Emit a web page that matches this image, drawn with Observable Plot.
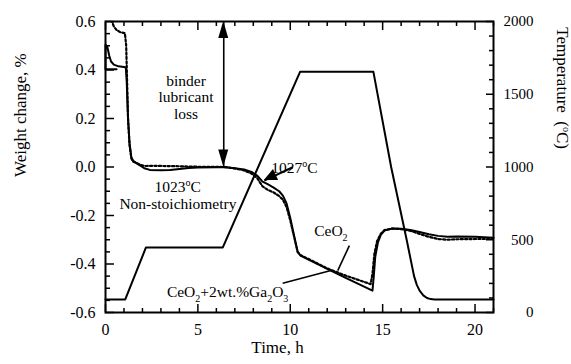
<!DOCTYPE html>
<html><head><meta charset="utf-8">
<script src="https://cdn.jsdelivr.net/npm/d3@7"></script>
<script src="https://cdn.jsdelivr.net/npm/@observablehq/plot@0.6"></script>
<style>
body{margin:0;background:#fff}
#chart svg{display:block}
#chart svg, #chart svg text{font-family:"Liberation Serif","Times New Roman","DejaVu Serif",serif !important;}
</style>
</head><body><div id="chart"></div>
<script>
// ---- data (time in h) ----
const tempProfile = [[0,90],[1.07,90],[2.19,447],[6.35,447],[10.53,1654],[14.5,1654],[15.46,1000],[16.3,500],[16.7,250],[16.85,190],[17.0,150],[17.2,118],[17.4,100],[17.6,92],[17.8,90],[21,90]];
const ceo2 = [[0.6,0.403],[0,0.403],[0,0.505],[0.1,0.495],[0.2,0.46],[0.3,0.435],[0.45,0.422],[0.7,0.415],[1.0,0.412],[1.1,0.41],[1.15,0.35],[1.22,0.2],[1.3,0.1],[1.4,0.04],[1.5,0.025],[1.8,0.01],[2.1,-0.005],[2.4,-0.012],[3.0,-0.013],[3.5,-0.012],[4.0,-0.008],[4.5,-0.004],[5.0,-0.002],[6.0,-0.001],[6.4,0.0],[7.0,-0.005],[7.5,-0.01],[7.9,-0.02],[8.2,-0.035],[8.5,-0.06],[8.8,-0.072],[9.1,-0.085],[9.4,-0.1],[9.6,-0.118],[9.8,-0.15],[10.0,-0.21],[10.2,-0.28],[10.4,-0.35],[10.55,-0.365],[12.0,-0.42],[13.0,-0.457],[14.45,-0.51],[14.52,-0.45],[14.6,-0.37],[14.75,-0.31],[14.9,-0.28],[15.1,-0.262],[15.5,-0.254],[16.0,-0.255],[16.5,-0.26],[17.0,-0.268],[17.5,-0.277],[18.0,-0.284],[18.5,-0.288],[19.0,-0.287],[20.0,-0.288],[21.0,-0.292]];
const ceo2Ga = [[0.25,0.66],[0.35,0.6],[0.45,0.58],[0.6,0.565],[0.8,0.556],[1.05,0.552],[1.12,0.5],[1.17,0.35],[1.22,0.2],[1.3,0.09],[1.4,0.035],[1.5,0.022],[1.8,0.012],[2.1,0.004],[2.5,0.005],[4.0,0.003],[5.0,0.001],[6.4,0.0],[7.0,-0.006],[7.5,-0.014],[7.9,-0.027],[8.2,-0.045],[8.5,-0.08],[8.8,-0.095],[9.1,-0.105],[9.4,-0.12],[9.6,-0.135],[9.8,-0.165],[10.0,-0.22],[10.2,-0.285],[10.4,-0.35],[10.55,-0.363],[12.0,-0.418],[13.0,-0.448],[14.35,-0.483],[14.45,-0.44],[14.55,-0.36],[14.7,-0.305],[14.9,-0.275],[15.1,-0.26],[15.5,-0.254],[16.0,-0.256],[16.5,-0.263],[17.0,-0.276],[17.5,-0.288],[18.0,-0.297],[18.5,-0.3],[19.0,-0.298],[20.0,-0.297],[21.0,-0.297]];

// ---- ticks ----
const xMajor = [0,5,10,15,20];
const xMinor = [1,2,3,4,6,7,8,9,11,12,13,14,16,17,18,19,21];
const wMajor = [-0.6,-0.4,-0.2,0,0.2,0.4,0.6];
const wMinor = [-0.55,-0.5,-0.45,-0.35,-0.3,-0.25,-0.15,-0.1,-0.05,0.05,0.1,0.15,0.25,0.3,0.35,0.45,0.5,0.55];
const tMajor = [0,500,1000,1500,2000];
const tMinor = [100,200,300,400,600,700,800,900,1100,1200,1300,1400,1600,1700,1800,1900];

// ---- annotations ----
const notes = [
  {x:4.357, y:0.288, text:"binder\nlubricant\nloss", anchor:"middle"},
  {x:10.22, y:-0.002, text:"1027oC", anchor:"start"},
  {x:3.91, y:-0.083, text:"1023oC", anchor:"middle"},
  {x:3.92, y:-0.152, text:"Non-stoichiometry", anchor:"middle"},
  {x:12.2, y:-0.262, text:"CeO2", anchor:"start"},
  {x:6.61, y:-0.516, text:"CeO2+2wt.%Ga2O3", anchor:"start"}
];
const leaders = [
  {x1:13.2, y1:-0.324, x2:12.57, y2:-0.427},
  {x1:9.59, y1:-0.479, x2:12.2, y2:-0.427}
];
const dblArrow = {x:6.4, y1:0.0, y2:0.6};
const tempArrow = {x1:10.13, y1:-0.001, x2:8.595, y2:-0.056};

const T2W = t => -0.6 + t * 1.2 / 2000;
const W2T = w => Math.round((w + 0.6) * 2000 / 1.2);
const tempData = tempProfile.map(([t, c]) => ({t, w: T2W(c)}));
const s1 = ceo2.map(([t, w]) => ({t, w}));
const s2 = ceo2Ga.map(([t, w]) => ({t, w}));

const FONT = "Liberation Serif";
const blank = () => "";
const plot = Plot.plot({
  width: 571, height: 364,
  marginLeft: 105, marginRight: 78, marginTop: 21, marginBottom: 52,
  style: {fontFamily: FONT, fontSize: "16px", background: "white", color: "black"},
  x: {domain: [0, 21]},
  y: {domain: [-0.6, 0.6]},
  marks: [
    // axes
    Plot.axisX({ticks: xMajor, tickSize: 0, tickPadding: 11, tickFormat: d => String(d), fontSize: 16, fontFamily: FONT, label: null}),
    Plot.axisX({ticks: xMajor, tickSize: -8, tickFormat: blank, label: null, strokeWidth: 1.5}),
    Plot.axisX({ticks: xMinor, tickSize: -4, tickFormat: blank, label: null, strokeWidth: 1.5}),
    Plot.axisX({anchor: "top", ticks: xMajor, tickSize: -8, tickFormat: blank, label: null, strokeWidth: 1.5}),
    Plot.axisX({anchor: "top", ticks: xMinor, tickSize: -4, tickFormat: blank, label: null, strokeWidth: 1.5}),
    Plot.axisY({ticks: wMajor, tickSize: 0, tickPadding: 10, tickFormat: d => d.toFixed(1), fontSize: 16, fontFamily: FONT, label: null}),
    Plot.axisY({ticks: wMajor, tickSize: -9, tickFormat: blank, label: null, strokeWidth: 1.5}),
    Plot.axisY({ticks: wMinor, tickSize: -5, tickFormat: blank, label: null, strokeWidth: 1.5}),
    Plot.axisY({anchor: "right", ticks: tMajor.map(T2W), tickSize: 0, tickPadding: 10, dx: 30, textAnchor: "end", tickFormat: w => String(W2T(w)), fontSize: 15, fontFamily: FONT, label: null}),
    Plot.axisY({anchor: "right", ticks: tMajor.map(T2W), tickSize: -8, tickFormat: blank, label: null, strokeWidth: 1.5}),
    Plot.axisY({anchor: "right", ticks: tMinor.map(T2W), tickSize: -5, tickFormat: blank, label: null, strokeWidth: 1.5}),
    Plot.frame({strokeWidth: 2}),
    // series
    Plot.line(tempData, {x: "t", y: "w", stroke: "black", strokeWidth: 2}),
    Plot.line(s1, {x: "t", y: "w", stroke: "black", strokeWidth: 2}),
    Plot.line(s2, {x: "t", y: "w", stroke: "black", strokeWidth: 2.2, strokeDasharray: "2.2,2.2", clip: true}),
    // annotation lines
    Plot.link(leaders, {x1: "x1", y1: "y1", x2: "x2", y2: "y2", stroke: "black", strokeWidth: 1.6}),
    Plot.link([dblArrow], {x1: "x", x2: "x", y1: "y1", y2: "y2", stroke: "black", strokeWidth: 1.6}),
    Plot.link([tempArrow], {x1: "x1", y1: "y1", x2: "x2", y2: "y2", stroke: "black", strokeWidth: 2}),
    Plot.text(notes, {x: "x", y: "y", text: "text", textAnchor: d => d.anchor, fontSize: 15.5, fontFamily: FONT, lineHeight: 1.05, fill: "black"}),
    // axis titles
    Plot.text(["Weight change, %"], {frameAnchor: "left", dx: -85, dy: 10, rotate: -90, fontSize: 17, fontFamily: FONT, fill: "black"}),
    Plot.text(["Time, h"], {frameAnchor: "bottom", dx: -22, dy: 40, fontSize: 17, fontFamily: FONT, fill: "black"}),
    Plot.text(["Temperature  (oC)"], {frameAnchor: "right", dx: 69, dy: -18, rotate: 90, fontSize: 17, fontFamily: FONT, fill: "black"})
  ]
});
document.getElementById("chart").append(plot);

// ---- arrowheads drawn with the plot's scales ----
const sx = plot.scale("x"), sy = plot.scale("y");
const svg = d3.select(plot);
const g = svg.append("g");
function head(fx, fy, tx, ty, len, hw) {
  const x0 = sx.apply(fx), y0 = sy.apply(fy), x1 = sx.apply(tx), y1 = sy.apply(ty);
  const dx = x1 - x0, dy = y1 - y0, L = Math.hypot(dx, dy);
  const ux = dx / L, uy = dy / L, bx = x1 - ux * len, by = y1 - uy * len;
  g.append("path").attr("fill", "black")
    .attr("d", `M${x1},${y1}L${bx - uy * hw},${by + ux * hw}L${bx + uy * hw},${by - ux * hw}Z`);
}
head(dblArrow.x, dblArrow.y1, dblArrow.x, dblArrow.y2, 17, 5);
head(dblArrow.x, dblArrow.y2, dblArrow.x, dblArrow.y1, 17, 5);
head(tempArrow.x1, tempArrow.y1, tempArrow.x2, tempArrow.y2, 13, 6);

// ---- rich text (super/subscripts) ----
const rich = {
  "1027oC": [["1027"], ["o", "sup"], ["C"]],
  "1023oC": [["1023"], ["o", "sup"], ["C"]],
  "CeO2": [["CeO"], ["2", "sub"]],
  "CeO2+2wt.%Ga2O3": [["CeO"], ["2", "sub"], ["+2wt.%Ga"], ["2", "sub"], ["O"], ["3", "sub"]],
  "Temperature  (oC)": [["Temperature\u00a0\u00a0("], ["o", "sup"], ["C)"]]
};
svg.selectAll("text").each(function () {
  const parts = rich[this.textContent];
  if (!parts) return;
  const el = d3.select(this);
  el.text(null);
  let shift = 0;
  for (const [t, kind] of parts) {
    const target = kind === "sup" ? -6 : kind === "sub" ? 5 : 0;
    el.append("tspan").attr("dy", target - shift).attr("font-size", kind ? 10 : null).text(t);
    shift = target;
  }
});
</script>
</body></html>
